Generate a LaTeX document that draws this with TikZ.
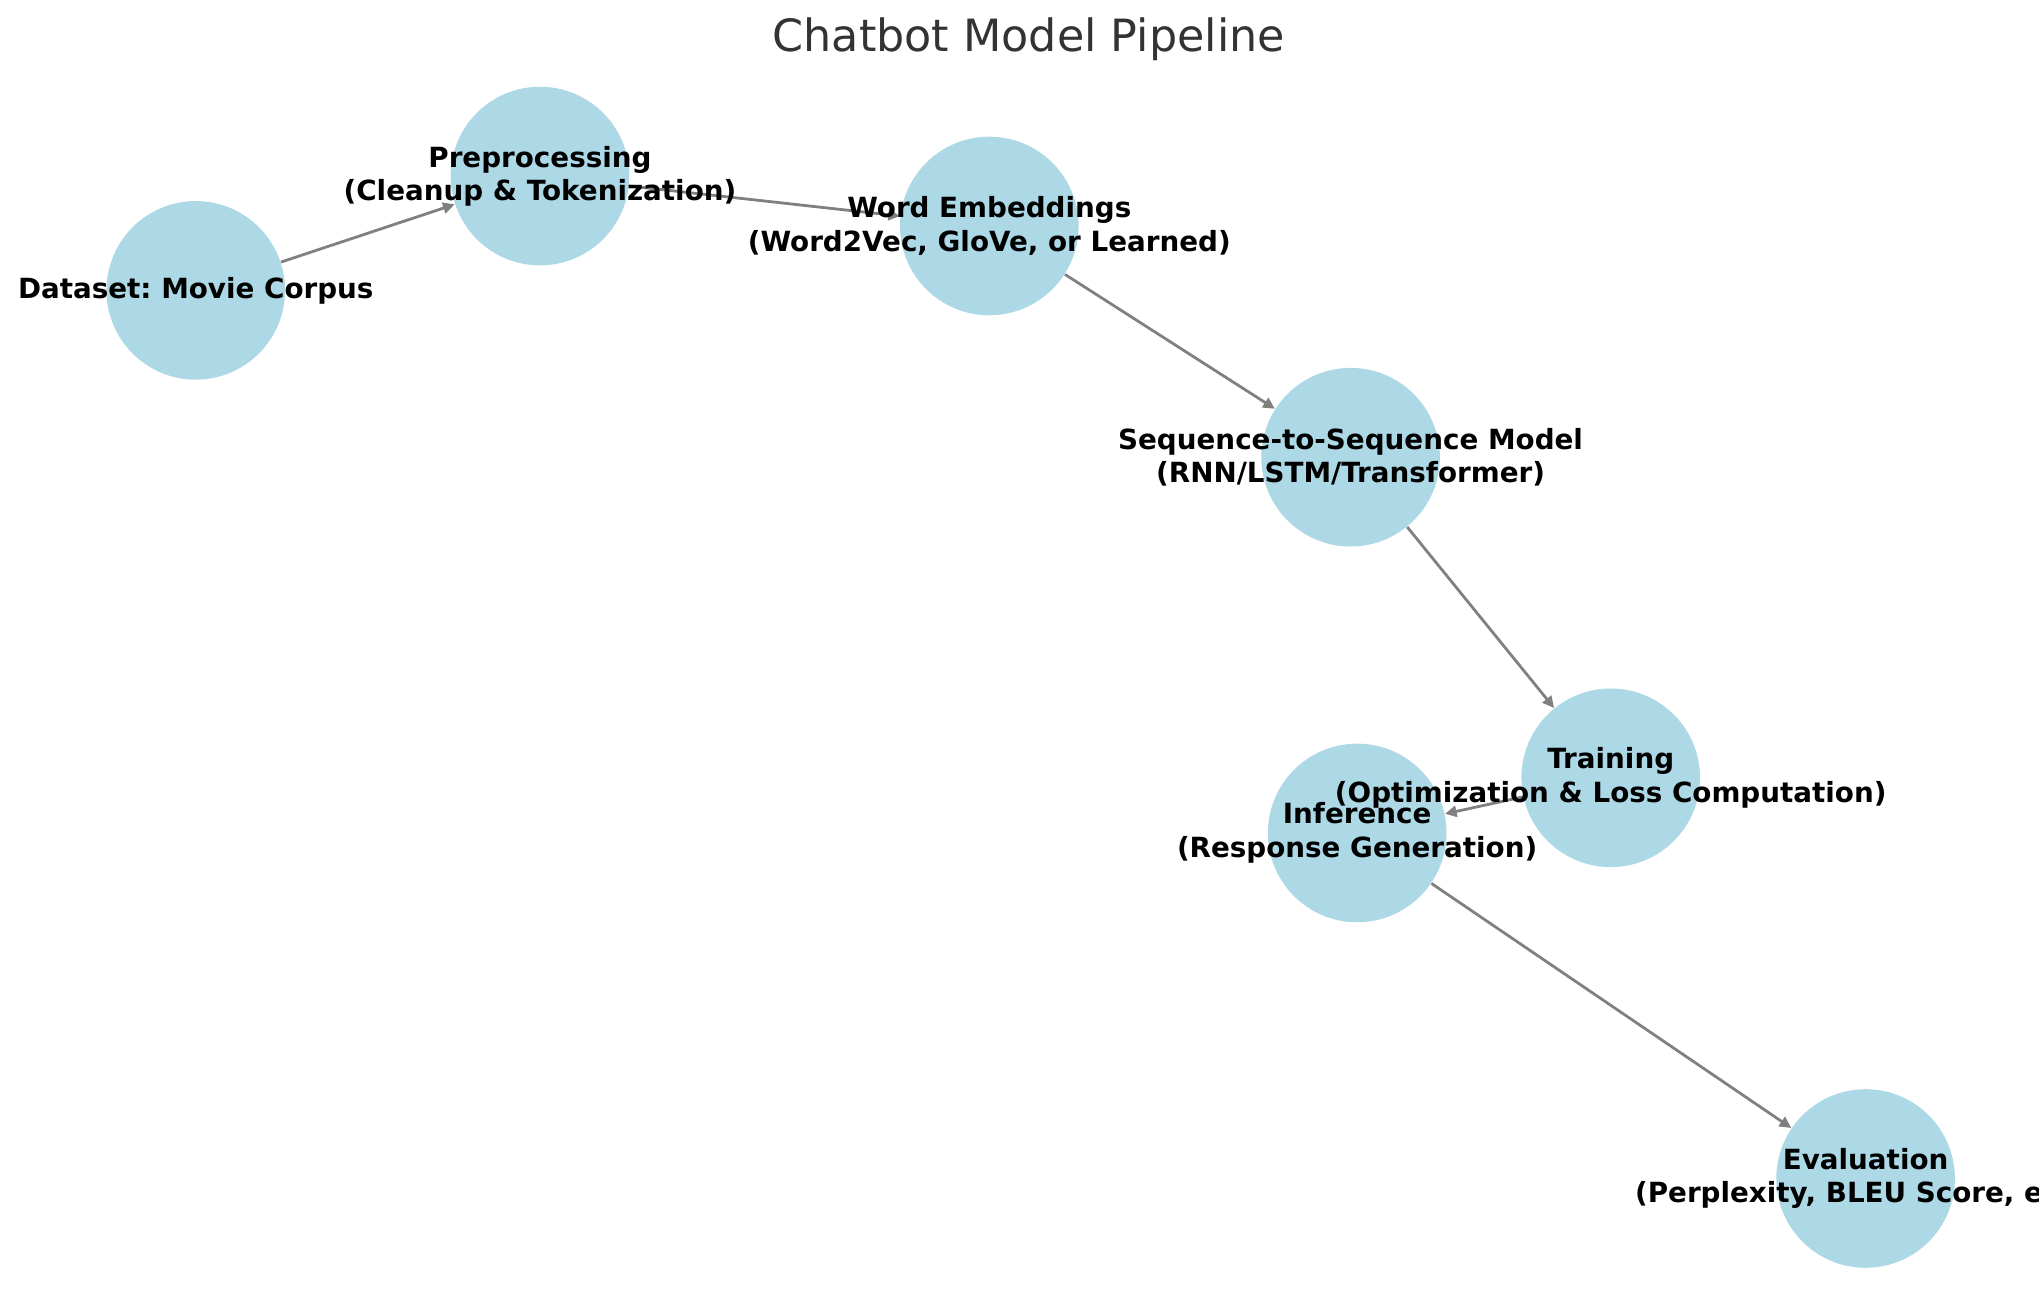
\documentclass[tikz,border=0pt]{standalone}
\usepackage{fontspec}
\setmainfont{DejaVu Sans}
\usetikzlibrary{arrows.meta}
\definecolor{nodeblue}{HTML}{ADD8E6}
\definecolor{edgegray}{HTML}{808080}
\definecolor{titlegray}{HTML}{333333}
\frenchspacing
\begin{document}
\frenchspacing
\begin{tikzpicture}[x=0.473pt,y=-0.473pt,
  stage/.style={circle,fill=nodeblue,minimum size=64.3pt,inner sep=0pt},
  lbl/.style={font=\fontsize{10}{12}\selectfont\bfseries,align=center,inner sep=0pt},
  flow/.style={draw=edgegray,line width=1pt,-{Triangle[length=4.2pt,width=4pt]}}]
\useasboundingbox (0,0) rectangle (1552,982);
\clip (0,0) rectangle (1552,982);
\fill[white] (0,0) rectangle (1552,982);
\node[stage] (ds)  at (149,221) {};
\node[stage] (pre) at (411,134) {};
\node[stage] (emb) at (753,172) {};
\node[stage] (seq) at (1028,348) {};
\node[stage] (trn) at (1226,592) {};
\node[stage] (inf) at (1033,634) {};
\node[stage] (evl) at (1420,897) {};
\draw[flow] (ds) -- (pre);
\draw[flow] (pre) -- (emb);
\draw[flow] (emb) -- (seq);
\draw[flow] (seq) -- (trn);
\draw[flow] (trn) -- (inf);
\draw[flow] (inf) -- (evl);
\node[lbl] (dsl)  at (ds)  {Dataset: Movie Corpus};
\node[lbl] (prel) at (pre) {Preprocessing\\(Cleanup \& Tokenization)};
\node[lbl] (embl) at (emb) {Word Embeddings\\(Word2Vec, GloVe, or Learned)};
\node[lbl] (seql) at (seq) {Sequence-to-Sequence Model\\(RNN/LSTM/Transformer)};
\node[lbl] (trnl) at (trn) {Training\\(Optimization \& Loss Computation)};
\node[lbl] (infl) at (inf) {Inference\\(Response Generation)};
\node[lbl] (evll) at (evl) {Evaluation\\(Perplexity, BLEU Score, etc.)};
\node[font=\fontsize{16}{19}\selectfont, text=titlegray, inner sep=0pt] (title) at (783,30) {Chatbot Model Pipeline};
\end{tikzpicture}
\end{document}
